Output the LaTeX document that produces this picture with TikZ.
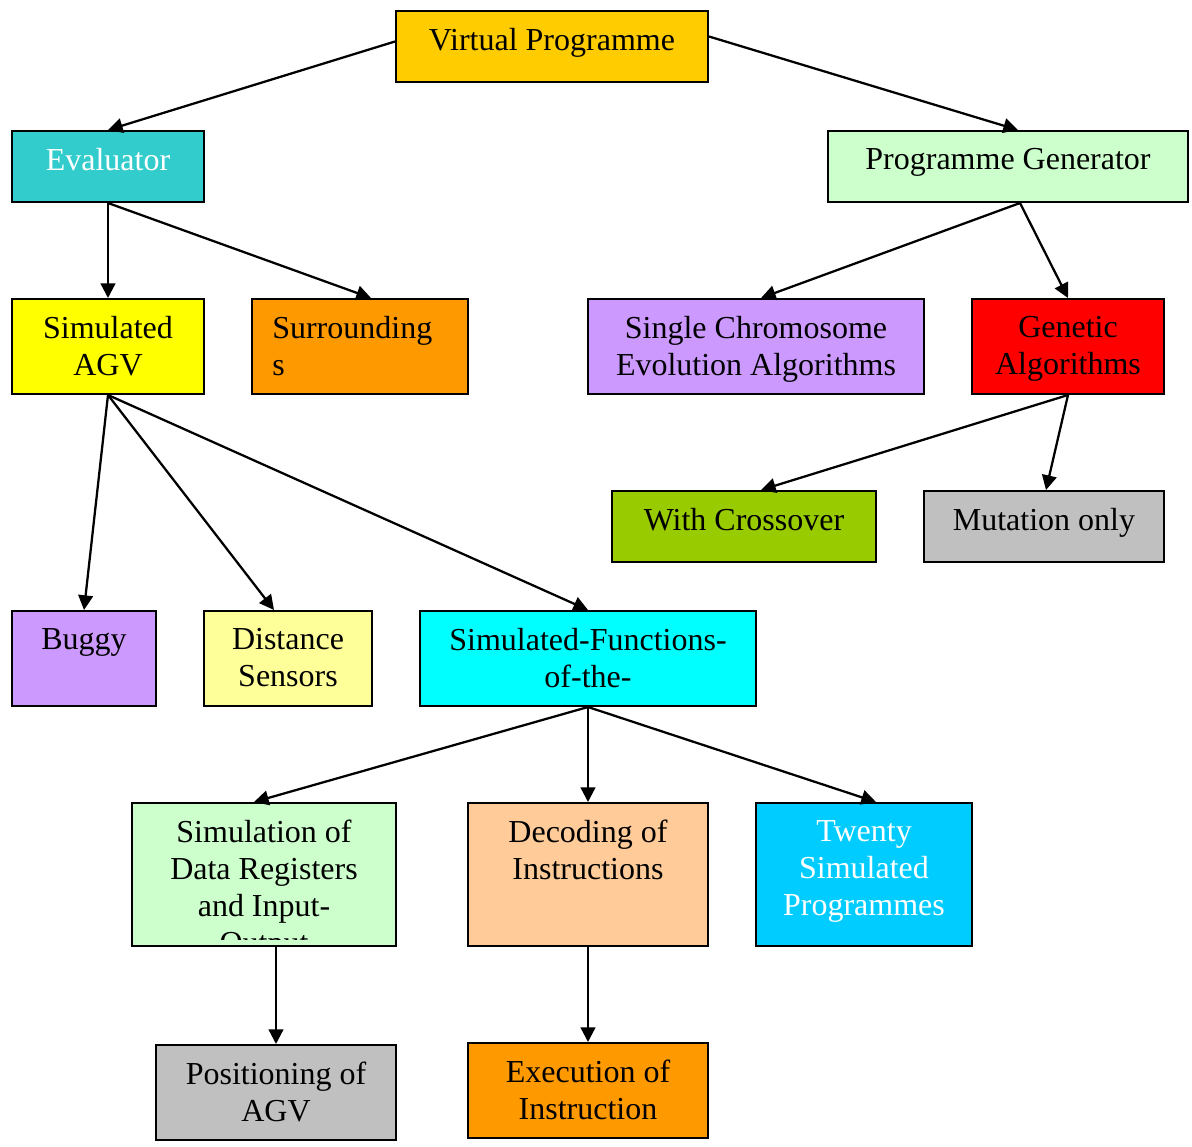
\documentclass[tikz,border=0pt]{standalone}
\usepackage{fontspec}
\setmainfont{Liberation Serif}
\usetikzlibrary{arrows.meta,calc}
\definecolor{cGold}{HTML}{FFCC00}
\definecolor{cTeal}{HTML}{33CCCC}
\definecolor{cMint}{HTML}{CCFFCC}
\definecolor{cYellow}{HTML}{FFFF00}
\definecolor{cOrange}{HTML}{FF9900}
\definecolor{cLilac}{HTML}{CC99FF}
\definecolor{cRed}{HTML}{FF0000}
\definecolor{cLime}{HTML}{99CC00}
\definecolor{cGrey}{HTML}{C0C0C0}
\definecolor{cPale}{HTML}{FFFF99}
\definecolor{cCyan}{HTML}{00FFFF}
\definecolor{cPeach}{HTML}{FFCC99}
\definecolor{cSky}{HTML}{00CCFF}
% box: name, left, top, right, bottom, fill
\newcommand\mkbox[6]{%
  \node[box,fill=#6,minimum width={(#4-#2)*0.75pt},minimum height={(#5-#3)*0.75pt}] (#1) at (#2,#3) {};}
\begin{document}
\begin{tikzpicture}[x=0.75pt,y=-0.75pt,
  box/.style={draw=black,line width=1.5pt,anchor=north west,inner sep=0pt},
  lbl/.style={anchor=north,inner sep=0pt,align=center,font=\fontsize{24}{27.75}\selectfont},
  link/.style={line width=1.7pt,-{Triangle[length=11pt,width=11pt]}}]
\useasboundingbox[fill=white] (0,0) rectangle (1192,1146);

% boxes
\mkbox{vp}{395}{10}{707}{81}{cGold}
\mkbox{ev}{11}{130}{203}{201}{cTeal}
\mkbox{pg}{827}{130}{1187}{201}{cMint}
\mkbox{sa}{11}{298}{203}{393}{cYellow}
\mkbox{su}{251}{298}{467}{393}{cOrange}
\mkbox{sc}{587}{298}{923}{393}{cLilac}
\mkbox{ga}{971}{298}{1163}{393}{cRed}
\mkbox{wc}{611}{490}{875}{561}{cLime}
\mkbox{mo}{923}{490}{1163}{561}{cGrey}
\mkbox{bu}{11}{610}{155}{705}{cLilac}
\mkbox{ds}{203}{610}{371}{705}{cPale}
\mkbox{sf}{419}{610}{755}{705}{cCyan}
\mkbox{si}{131}{802}{395}{945}{cMint}
\mkbox{de}{467}{802}{707}{945}{cPeach}
\mkbox{tw}{755}{802}{971}{945}{cSky}
\mkbox{po}{155}{1044}{395}{1139}{cGrey}
\mkbox{ex}{467}{1042}{707}{1137}{cOrange}

% labels
\node[lbl] (vp-t) at ($(vp.north)+(0,18)$) {Virtual Programme};
\node[lbl,text=white] (ev-t) at ($(ev.north)+(0,18)$) {Evaluator};
\node[lbl] (pg-t) at ($(pg.north)+(0,18)$) {Programme Generator};
\node[lbl] (sa-t) at ($(sa.north)+(0,18)$) {Simulated\\AGV};
\node[lbl,anchor=north west,align=left] (su-t) at ($(su.north west)+(21,18)$) {Surrounding\\s};
\node[lbl] (sc-t) at ($(sc.north)+(0,18)$) {Single Chromosome\\Evolution Algorithms};
\node[lbl] (ga-t) at ($(ga.north)+(0,18)$) {Genetic\\Algorithms};
\node[lbl] (wc-t) at ($(wc.north)+(0,18)$) {With Crossover};
\node[lbl] (mo-t) at ($(mo.north)+(0,18)$) {Mutation only};
\node[lbl] (bu-t) at ($(bu.north)+(0,18)$) {Buggy};
\node[lbl] (ds-t) at ($(ds.north)+(0,18)$) {Distance\\Sensors};
\node[lbl] (sf-t) at ($(sf.north)+(0,18)$) {Simulated-Functions-\\of-the-};
\begin{scope}
  \clip (131,802) rectangle (395,939);
  \node[lbl] (si-t) at ($(si.north)+(0,18)$) {Simulation of\\Data Registers\\and Input-\\Output};
\end{scope}
\node[lbl] (de-t) at ($(de.north)+(0,18)$) {Decoding of\\Instructions};
\node[lbl,text=white] (tw-t) at ($(tw.north)+(0,18)$) {Twenty\\Simulated\\Programmes};
\node[lbl] (po-t) at ($(po.north)+(0,18)$) {Positioning of\\AGV};
\node[lbl] (ex-t) at ($(ex.north)+(0,18)$) {Execution of\\Instruction};

% connectors
\draw[link] ($(vp.west)+(0,-5)$) -- (ev.north);
\draw[link] ($(vp.east)+(0,-10)$) -- ($(pg.north)+(10,0)$);
\draw[link] (ev.south) -- (sa.north);
\draw[link] (ev.south) -- ($(su.north)+(11,0)$);
\draw[link] ($(pg.south)+(12,0)$) -- ($(sc.north)+(5,0)$);
\draw[link] ($(pg.south)+(12,0)$) -- (ga.north);
\draw[link] (ga.south) -- ($(wc.north)+(17,0)$);
\draw[link] (ga.south) -- ($(mo.north)+(2,0)$);
\draw[link] (sa.south) -- (bu.north);
\draw[link] (sa.south) -- ($(ds.north)+(-14,0)$);
\draw[link] (sa.south) -- (sf.north);
\draw[link] (sf.south) -- ($(si.north)+(-10,0)$);
\draw[link] (sf.south) -- (de.north);
\draw[link] (sf.south) -- ($(tw.north)+(12,0)$);
\draw[link] ($(si.south)+(12,0)$) -- (po.north);
\draw[link] (de.south) -- (ex.north);
\end{tikzpicture}
\end{document}
